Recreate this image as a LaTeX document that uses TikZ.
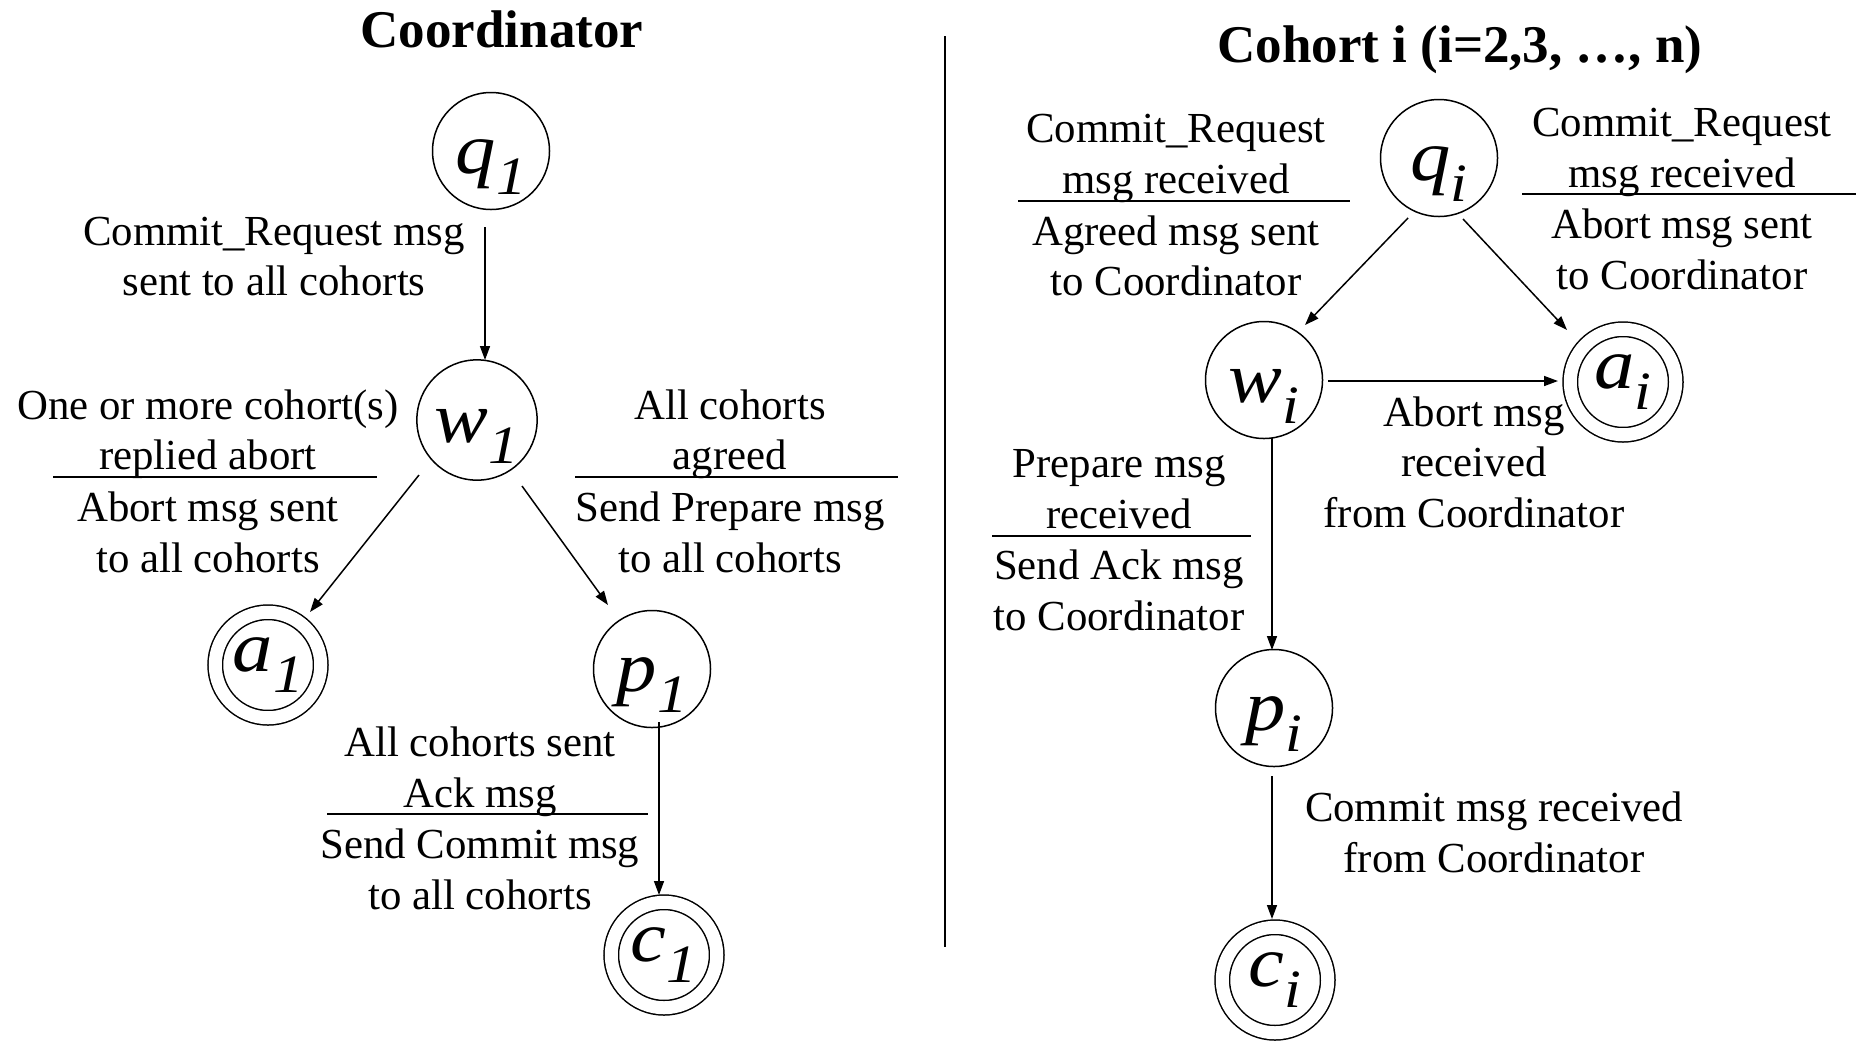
\documentclass[tikz,border=0pt]{standalone}
\usepackage{fontspec}
\usepackage{graphicx}
\setmainfont{Liberation Serif}
\newfontfamily\stfont{Liberation Serif Italic}
\usetikzlibrary{arrows.meta}

% state name: wide italic letter with a lowered italic index;
% #3 is the strut height that sets where the name sits in its circle
\newcommand\stname[3]{\scalebox{1.12}[1]{\stfont\fontsize{36}{36}\selectfont
  \rule[-10.5pt]{0pt}{#3}#1\raisebox{-10.5pt}{\fontsize{27}{27}\selectfont #2}}}

\begin{document}
\begin{tikzpicture}[x=0.5pt,y=-0.5pt,
  state/.style={circle, draw, line width=0.75pt, minimum size=58.5pt, inner sep=0pt},
  final/.style={circle, draw, line width=0.75pt, double, double distance=6.5pt,
                minimum size=52.75pt, inner sep=0pt},
  trans/.style={line width=0.75pt, -{Triangle[length=7pt,width=5pt]}},
  lbl/.style={anchor=base, inner sep=0pt, font=\fontsize{21.4}{25.5}\selectfont},
  ttl/.style={anchor=base, inner sep=0pt, font=\fontsize{26.5}{30}\selectfont\bfseries},
  bar/.style={line width=1pt},
]
\useasboundingbox (0,0) rectangle (1856,1040);

% ---------- titles and divider ----------
\node[ttl] (tcoord) at (502,47) {Coordinator};
\node[ttl] (tcohort) at (1460,62) {Cohort i (i=2,3, …, n)};
\coordinate (divtop) at (945,36);
\coordinate (divbot) at (945,947);
\draw[line width=0.8pt] (divtop) -- (divbot);

% ---------- coordinator states ----------
\node[state] (q1) at (491,151) {\stname{q}{1}{43pt}};
\node[state] (w1) at (477,420) {\stname{w}{1}{43pt}};
\node[final] (a1) at (268,665) {\stname{a}{1}{25pt}};
\node[state] (p1) at (652,669) {\stname{p}{1}{43pt}};
\node[final] (c1) at (664,955) {\stname{c}{1}{25pt}};

\draw[trans] ([shift={(-6,76)}]q1.center) -- ([shift={(8,-60)}]w1.center);
\draw[trans] ([shift={(-58,55)}]w1.center) -- ([shift={(42,-53)}]a1.center);
\draw[trans] ([shift={(45,66)}]w1.center) -- ([shift={(-44,-64)}]p1.center);
\draw[trans] ([shift={(7,53)}]p1.center) -- ([shift={(-5,-60)}]c1.center);

% ---------- coordinator labels ----------
\node[lbl] (l1a) at (274,245) {Commit\_Request msg};
\node[lbl] (l1b) at (274,295) {sent to all cohorts};

\node[lbl] (l2a) at (208,419) {One or more cohort(s)};
\node[lbl] (l2b) at (208,469) {replied abort};
\draw[bar] (53,477) -- (377,477);
\node[lbl] (l2c) at (208,521) {Abort msg sent};
\node[lbl] (l2d) at (208,572) {to all cohorts};

\node[lbl] (l3a) at (730,419) {All cohorts};
\node[lbl] (l3b) at (730,469) {agreed};
\draw[bar] (575,477) -- (898,477);
\node[lbl] (l3c) at (730,521) {Send Prepare msg};
\node[lbl] (l3d) at (730,572) {to all cohorts};

\node[lbl] (l4a) at (480,756) {All cohorts sent};
\node[lbl] (l4b) at (480,807) {Ack msg};
\draw[bar] (327,814) -- (648,814);
\node[lbl] (l4c) at (480,858) {Send Commit msg};
\node[lbl] (l4d) at (480,909) {to all cohorts};

% ---------- cohort states ----------
\node[state] (qi) at (1439,158) {\stname{q}{i}{43pt}};
\node[state] (wi) at (1264,380) {\stname{w}{i}{43pt}};
\node[final] (ai) at (1623,382) {\stname{a}{i}{25pt}};
\node[state] (pi) at (1274,708) {\stname{p}{i}{43pt}};
\node[final] (ci) at (1275,980) {\stname{c}{i}{25pt}};

\draw[trans] ([shift={(-31,60)}]qi.center) -- ([shift={(41,-55)}]wi.center);
\draw[trans] ([shift={(24,61)}]qi.center) -- ([shift={(-56,-52)}]ai.center);
\draw[trans] ([shift={(64,1)}]wi.center) -- ([shift={(-65,-1)}]ai.center);
\draw[trans] ([shift={(8,58)}]wi.center) -- ([shift={(-2,-58)}]pi.center);
\draw[trans] ([shift={(-2,68)}]pi.center) -- ([shift={(-3,-61)}]ci.center);

% ---------- cohort labels ----------
\node[lbl] (r1a) at (1176,142) {Commit\_Request};
\node[lbl] (r1b) at (1176,193) {msg received};
\draw[bar] (1018,201) -- (1350,201);
\node[lbl] (r1c) at (1176,245) {Agreed msg sent};
\node[lbl] (r1d) at (1176,295) {to Coordinator};

\node[lbl] (r2a) at (1682,136) {Commit\_Request};
\node[lbl] (r2b) at (1682,187) {msg received};
\draw[bar] (1522,194) -- (1856,194);
\node[lbl] (r2c) at (1682,238) {Abort msg sent};
\node[lbl] (r2d) at (1682,289) {to Coordinator};

\node[lbl] (r3a) at (1474,426) {Abort msg};
\node[lbl] (r3b) at (1474,476) {received};
\node[lbl] (r3c) at (1474,527) {from Coordinator};

\node[lbl] (r4a) at (1119,477) {Prepare msg};
\node[lbl] (r4b) at (1119,528) {received};
\draw[bar] (992,536) -- (1251,536);
\node[lbl] (r4c) at (1119,579) {Send Ack msg};
\node[lbl] (r4d) at (1119,630) {to Coordinator};

\node[lbl] (r5a) at (1494,821) {Commit msg received};
\node[lbl] (r5b) at (1494,872) {from Coordinator};
\end{tikzpicture}
\end{document}
